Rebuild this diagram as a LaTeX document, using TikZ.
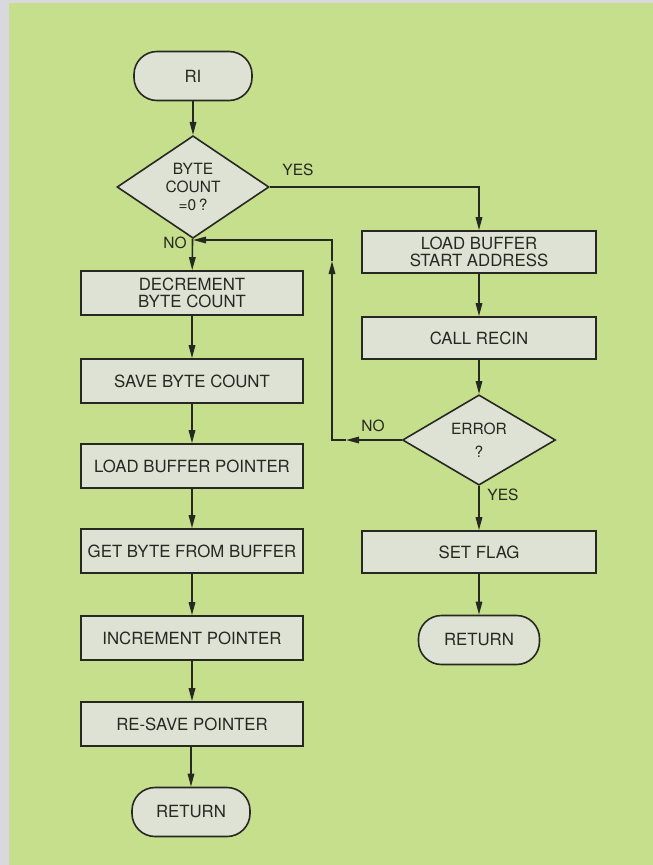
\documentclass[tikz,border=0pt]{standalone}
\usepackage{fontspec}
\setmainfont{TeX Gyre Heros}
\usetikzlibrary{shapes.geometric,arrows.meta}
\definecolor{bggreen}{RGB}{198,223,140}
\definecolor{margingrey}{RGB}{216,216,222}
\definecolor{boxfill}{RGB}{222,226,212}
\definecolor{ink}{RGB}{40,40,34}
\tikzset{
  x=1pt, y=-1pt,
  tip/.tip={Triangle[length=13pt,width=6.5pt]},
  line/.style={draw=ink, line width=1.6pt},
  arr/.style={line, -tip},
  procbox/.style={rectangle, draw=ink, fill=boxfill, line width=1.6pt, text=ink,
    inner sep=0pt, align=center, font=\fontsize{16.8}{17.5}\selectfont},
  lbox/.style={procbox, minimum width=222pt, minimum height=44pt},
  rbox/.style={procbox, minimum width=234pt, minimum height=42pt},
  term/.style={procbox, rounded corners=23pt, minimum width=118pt, minimum height=49pt},
  decide/.style={diamond, draw=ink, fill=boxfill, line width=1.6pt, text=ink,
    inner sep=0pt, align=center},
  lbl/.style={text=ink, inner sep=0pt, font=\fontsize{15.5}{17}\selectfont},
}
\begin{document}
\begin{tikzpicture}
\fill[margingrey] (0,0) rectangle (653,865);
\fill[bggreen] (9,3) rectangle (653,865);
\useasboundingbox (0,0) rectangle (653,865);

% left column
\node[term] (ri) at (193,76) {RI};
\node[decide, minimum width=152pt, minimum height=87pt,
  font=\fontsize{15.5}{18}\selectfont] (d1) at (193,187) {BYTE\\COUNT\\=0\,?};
\node[lbox] (dec) at (192,293) {DECREMENT\\BYTE COUNT};
\node[lbox] (save) at (192,381) {SAVE BYTE COUNT};
\node[lbox] (lbp) at (192,466) {LOAD BUFFER POINTER};
\node[lbox] (get) at (192,551) {GET BYTE FROM BUFFER};
\node[lbox] (inc) at (192,638) {INCREMENT POINTER};
\node[lbox] (resave) at (192,724) {RE-SAVE POINTER};
\node[term] (ret1) at (191,812) {RETURN};

% right column
\node[rbox] (lbs) at (479,252) {LOAD BUFFER\\START ADDRESS};
\node[rbox] (call) at (479,338) {CALL RECIN};
\node[decide, minimum width=153pt, minimum height=86pt,
  font=\fontsize{15.5}{23}\selectfont] (err) at (479,440) {ERROR\\?};
\node[rbox] (flag) at (479,552) {SET FLAG};
\node[term, minimum width=121pt] (ret2) at (479,640) {RETURN};

% helper coordinates
\coordinate (lt) at (346,440);
\coordinate (lp1) at (332,440);
\coordinate (ut) at (332,261);
\coordinate (lp2) at (332,240);
\coordinate (jn) at (193,240);

% connectors
\draw[arr] (ri) -- (d1);
\draw[arr] (d1) -- (dec);
\draw[arr] (dec) -- (save);
\draw[arr] (save) -- (lbp);
\draw[arr] (lbp) -- (get);
\draw[arr] (get) -- (inc);
\draw[arr] (inc) -- (resave);
\draw[arr] (resave.south -| ret1) -- (ret1);
\draw[arr] (d1.east) -| (lbs.north);
\draw[arr] (lbs) -- (call);
\draw[arr] (call) -- (err);
\draw[arr] (err) -- (flag);
\draw[arr] (flag) -- (ret2);
\draw[arr] (err.west) -- (lt);
\draw[arr] (lt) -- (lp1) -- (ut);
\draw[arr] (ut) -- (lp2) -- (jn);

% labels
\node[lbl] (yes1) at (298,170) {YES};
\node[lbl] (no1) at (175,243) {NO};
\node[lbl] (no2) at (373,426) {NO};
\node[lbl] (yes2) at (503,495) {YES};
\end{tikzpicture}
\end{document}
